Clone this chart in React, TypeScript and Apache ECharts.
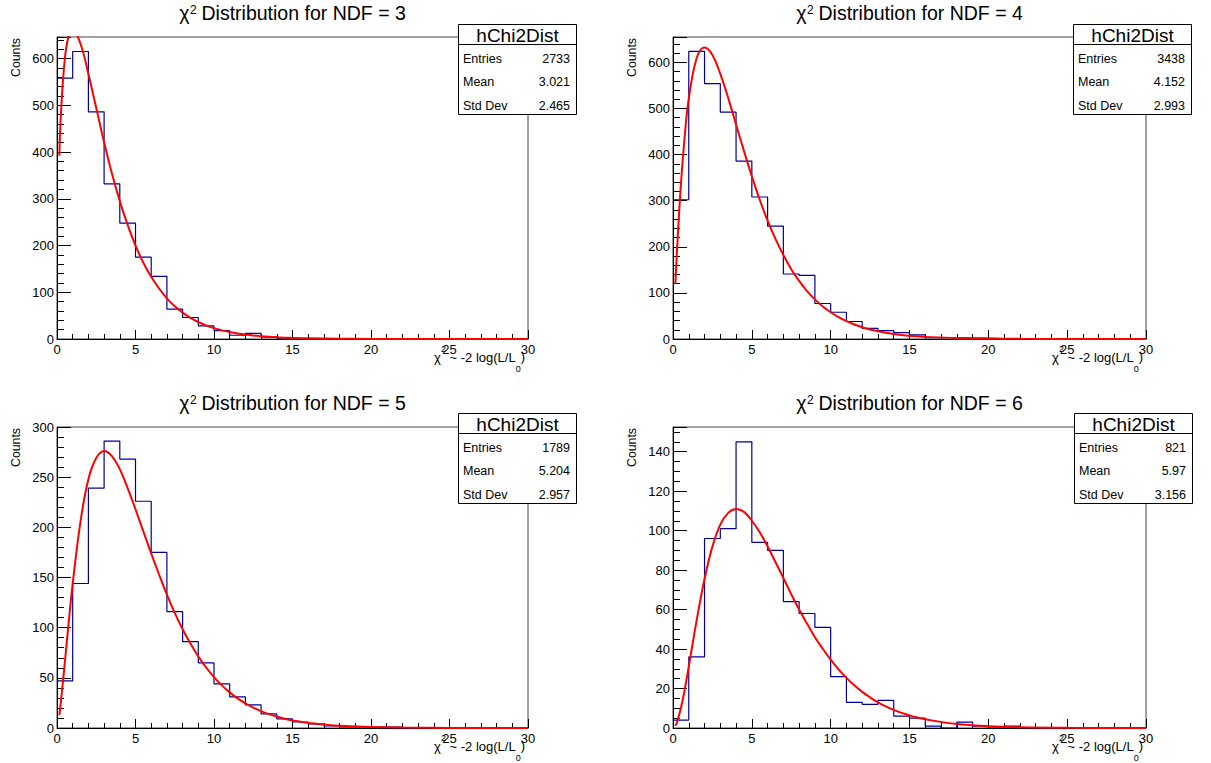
import React, { useEffect, useRef } from "react";
import * as echarts from "echarts";

// ---------- data ----------
const NDF = [3, 4, 5, 6];
const ENTRIES = ["2733", "3438", "1789", "821"];
const MEANS = ["3.021", "4.152", "5.204", "5.97"];
const STDDEVS = ["2.465", "2.993", "2.957", "3.156"];

// histogram counts, 30 bins of width 1 on [0, 30]
const HIST_NDF3 = [558, 615, 486, 332, 248, 175, 134, 64, 46, 28, 18, 8, 12, 4, 2, 1, 1, 1, 1, 0, 0, 0, 0, 0, 0, 0, 0, 0, 0, 0];
const HIST_NDF4 = [302, 624, 554, 492, 386, 308, 245, 141, 138, 77, 58, 38, 23, 18, 14, 9, 3, 3, 2, 2, 1, 0, 0, 0, 0, 0, 0, 0, 0, 0];
const HIST_NDF5 = [47, 144, 239, 286, 268, 226, 175, 116, 86, 65, 44, 31, 23, 14, 9, 6, 4, 2, 1, 1, 1, 1, 0, 0, 0, 0, 0, 0, 0, 0];
const HIST_NDF6 = [4, 36, 96, 101, 145, 94, 90, 64, 58, 51, 26, 13, 12, 14, 6, 5, 1, 0, 3, 1, 0, 1, 0, 0, 0, 0, 0, 0, 0, 0];

// fitted curves at these x positions
const FIT_X = [0.15, 0.25, 0.5, 0.75, 1, 1.5, 2, 2.5, 3, 3.5, 4, 4.5, 5, 5.5, 6, 6.5, 7, 7.5, 8, 8.5, 9, 9.5, 10, 10.5, 11, 11.5, 12, 12.5, 13, 13.5, 14, 14.5, 15, 15.5, 16, 18, 20, 22, 25, 30];
const FIT_NDF3 = [392, 481, 600, 649, 661, 631, 567, 494, 421, 354, 295, 244, 200, 163, 133, 108, 87, 70, 56.5, 45.3, 36.4, 29.1, 23.2, 18.5, 14.8, 11.8, 9.4, 7.4, 5.9, 4.7, 3.7, 2.9, 2.3, 1.85, 1.5, 0.57, 0.24, 0.09, 0.03, 0];
const FIT_NDF4 = [120, 190, 335, 443, 521, 609, 632, 616, 575, 523, 465, 408, 353, 302, 257, 217, 182, 151.5, 126, 104, 86, 70.6, 58, 47.4, 38.6, 31.5, 25.6, 20.7, 16.8, 13.6, 11, 8.85, 7.1, 5.74, 4.6, 1.9, 0.8, 0.32, 0.08, 0];
const FIT_NDF5 = [12.8, 26.2, 65.5, 106, 144, 206, 248, 269, 276, 271, 258, 239, 218, 196, 174, 153, 133, 114.8, 98.5, 84.1, 71.4, 60.3, 50.7, 42.5, 35.5, 29.5, 24.5, 20.3, 16.8, 13.8, 11.4, 9.3, 7.6, 6.3, 5.1, 2.2, 1.0, 0.4, 0.1, 0];
const FIT_NDF6 = [1.1, 2.8, 10, 19.8, 31.1, 54.5, 75.5, 91.9, 103, 109, 111, 109.5, 105, 99.2, 92, 84.1, 76, 67.8, 60, 52.9, 46, 40.1, 34.6, 29.7, 25.4, 21.6, 18.3, 15.5, 13, 10.95, 9.2, 7.66, 6.4, 5.31, 4.4, 2.05, 0.93, 0.4, 0.1, 0];

const X_TICKS_STEP = 5;
const Y_MAX = [646, 655, 300, 152.5];
const Y_STEP = [100, 100, 50, 20];
const Y_MINOR = [5, 5, 5, 4];

const HISTS = [HIST_NDF3, HIST_NDF4, HIST_NDF5, HIST_NDF6];
const FITS = [FIT_NDF3, FIT_NDF4, FIT_NDF5, FIT_NDF6];

// ---------- layout ----------
const PANELS = [
  { l: 57, t: 37, w: 471, h: 302 },
  { l: 673, t: 37, w: 473, h: 302 },
  { l: 57, t: 427, w: 471, h: 301 },
  { l: 673, t: 427, w: 473, h: 301 },
];
const BOXES = [
  { x: 458, y: 24 },
  { x: 1073, y: 24 },
  { x: 458, y: 413 },
  { x: 1074, y: 413 },
];
const BOX_W = 118;
const BOX_H = 90;
const FONT = '"Liberation Sans", Arial, Helvetica, sans-serif';

let measureCtx: CanvasRenderingContext2D | null = null;
function measure(text: string, size: number): number {
  if (!measureCtx) measureCtx = document.createElement("canvas").getContext("2d");
  if (!measureCtx) return text.length * size * 0.55;
  measureCtx.font = `${size}px ${FONT}`;
  return measureCtx.measureText(text).width;
}

function txt(x: number, y: number, text: string, size: number, align = "left", vAlign = "middle", extra: any = {}) {
  return {
    type: "text",
    x,
    y,
    z: 100,
    silent: true,
    style: { text, fill: "#000", fontSize: size, fontFamily: FONT, align, verticalAlign: vAlign },
    ...extra,
  };
}

function buildGraphics() {
  const g: any[] = [];
  PANELS.forEach((p, i) => {
    // title: χ^2 Distribution for NDF = n
    const tSize = 19.5;
    const supSize = 12;
    const a = "χ";
    const b = "2";
    const c = ` Distribution for NDF = ${NDF[i]}`;
    const wa = measure(a, tSize);
    const wb = measure(b, supSize);
    const wc = measure(c, tSize);
    const cx = p.l + p.w / 2;
    const sx = cx - (wa + wb + wc) / 2;
    const ty = p.t - 24;
    g.push(txt(sx, ty, a, tSize));
    g.push(txt(sx + wa + 0.5, ty - 3, b, supSize));
    g.push(txt(sx + wa + wb, ty, c, tSize));

    // y-axis title
    g.push(txt(p.l - 41, p.t + 1, "Counts", 12.3, "right", "middle", { rotation: Math.PI / 2 }));

    // x-axis title: χ^2 ~ -2 log(L/L_0)
    const xs = 13;
    const ss = 9;
    const parts = [
      { s: "χ", size: xs, dy: 0 },
      { s: "2", size: ss, dy: -8 },
      { s: " ~ -2 log(L/L", size: xs, dy: 0 },
      { s: "0", size: ss, dy: 12 },
      { s: ")", size: xs, dy: -1 },
    ];
    const total = parts.reduce((acc, q) => acc + measure(q.s, q.size), 0);
    let px = p.l + p.w - 3 - total;
    const xy = p.t + p.h + 18;
    parts.forEach((q) => {
      g.push(txt(px, xy + q.dy, q.s, q.size));
      px += measure(q.s, q.size);
    });

    // stats box
    const bx = BOXES[i];
    g.push({
      type: "rect",
      z: 99,
      silent: true,
      shape: { x: bx.x + 0.5, y: bx.y + 0.5, width: BOX_W, height: BOX_H },
      style: { fill: "#fff", stroke: "#000", lineWidth: 1 },
    });
    g.push({
      type: "line",
      z: 100,
      silent: true,
      shape: { x1: bx.x + 0.5, y1: bx.y + 20.5, x2: bx.x + BOX_W + 0.5, y2: bx.y + 20.5 },
      style: { stroke: "#000", lineWidth: 1 },
    });
    g.push(txt(bx.x + BOX_W / 2 + 0.5, bx.y + 11.5, "hChi2Dist", 19, "center"));
    const rows = [
      ["Entries", ENTRIES[i]],
      ["Mean", MEANS[i]],
      ["Std Dev", STDDEVS[i]],
    ];
    rows.forEach((r, k) => {
      const ry = bx.y + 34.5 + k * 23.5;
      g.push(txt(bx.x + 5, ry, r[0], 12.5, "left"));
      g.push(txt(bx.x + BOX_W - 6, ry, r[1], 12.5, "right"));
    });
  });
  return g;
}

function buildOption() {
  const grid = PANELS.map((p) => ({
    left: p.l,
    top: p.t,
    width: p.w,
    height: p.h,
    show: true,
    borderColor: "#444",
    borderWidth: 1,
    backgroundColor: "transparent",
  }));
  const xAxis = PANELS.map((_, i) => ({
    gridIndex: i,
    type: "value",
    min: 0,
    max: 30,
    interval: X_TICKS_STEP,
    axisLine: { onZero: false, lineStyle: { color: "#000", width: 1 } },
    axisTick: { inside: true, length: 9, lineStyle: { color: "#000" } },
    minorTick: { show: true, splitNumber: 5, length: 5, lineStyle: { color: "#000" } },
    axisLabel: { color: "#000", fontSize: 13, margin: 4, fontFamily: FONT },
    splitLine: { show: false },
    minorSplitLine: { show: false },
  }));
  const yAxis = PANELS.map((_, i) => ({
    gridIndex: i,
    type: "value",
    min: 0,
    max: Y_MAX[i],
    interval: Y_STEP[i],
    axisLine: { onZero: false, lineStyle: { color: "#000", width: 1 } },
    axisTick: { inside: true, length: 14, lineStyle: { color: "#000" } },
    minorTick: { show: true, splitNumber: Y_MINOR[i], length: 7, lineStyle: { color: "#000" } },
    axisLabel: {
      color: "#000",
      fontSize: 13,
      margin: 3,
      fontFamily: FONT,
      formatter: (v: number) => (Math.abs(v / Y_STEP[i] - Math.round(v / Y_STEP[i])) < 1e-6 ? String(v) : ""),
    },
    splitLine: { show: false },
  }));
  const series: any[] = [];
  HISTS.forEach((h, i) => {
    const data = h.map((v, k) => [k, v]);
    data.push([h.length, h[h.length - 1]]);
    series.push({
      type: "line",
      xAxisIndex: i,
      yAxisIndex: i,
      data,
      step: "end",
      symbol: "none",
      silent: true,
      z: 2,
      lineStyle: { color: "#000099", width: 1.2 },
    });
    series.push({
      type: "line",
      xAxisIndex: i,
      yAxisIndex: i,
      data: FIT_X.map((x, k) => [x, FITS[i][k]]),
      smooth: 0.4,
      symbol: "none",
      silent: true,
      clip: true,
      z: 3,
      lineStyle: { color: "#ff0000", width: 2 },
    });
  });
  return {
    animation: false,
    backgroundColor: "#fff",
    grid,
    xAxis,
    yAxis,
    series,
    graphic: buildGraphics(),
  };
}

export default function App() {
  const ref = useRef<HTMLDivElement>(null);
  useEffect(() => {
    document.body.style.margin = "0";
    if (!ref.current) return;
    const chart = echarts.init(ref.current, undefined, { renderer: "svg" });
    chart.setOption(buildOption() as any);
    return () => chart.dispose();
  }, []);
  return <div ref={ref} style={{ width: 1211, height: 763, position: "absolute", left: 0, top: 0 }} />;
}
